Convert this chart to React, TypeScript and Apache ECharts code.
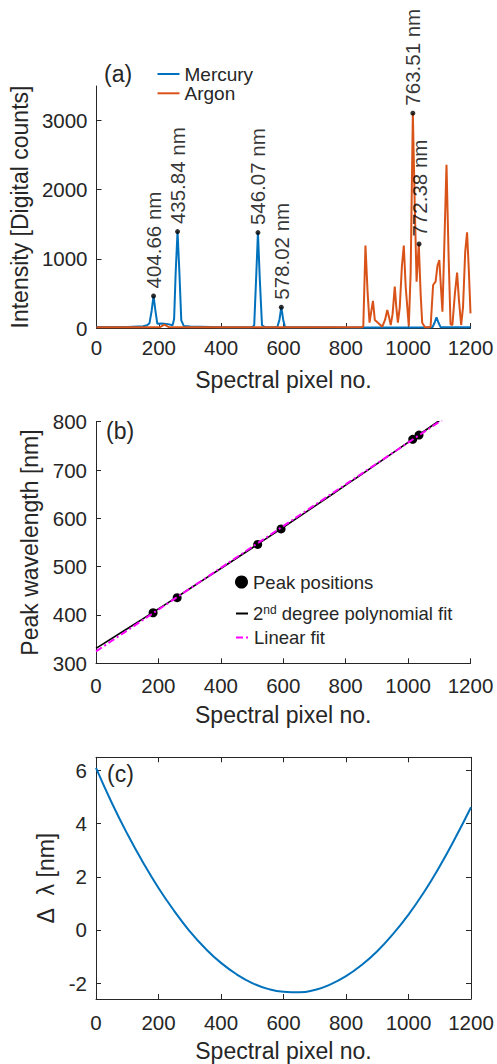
import React, { useEffect, useRef } from "react";
import * as echarts from "echarts";

// ---------- Data ----------
// (a) spectra: [spectral pixel, intensity]
const mercury: [number, number][] = [
  [0, 15], [100, 16], [150, 25], [162, 40], [170, 70], [177, 250], [183, 463], [189, 250],
  [195, 62], [210, 64], [230, 56], [244, 40], [249, 130], [254, 800], [260, 1394], [266, 800],
  [272, 110], [280, 30], [300, 20], [400, 12], [500, 12], [506, 40], [512, 700], [518, 1380],
  [524, 700], [531, 40], [540, 12], [580, 12], [587, 120], [593, 300], [599, 120], [605, 12],
  [700, 10], [800, 8], [900, 8], [1000, 8], [1078, 10], [1085, 80], [1091, 155], [1097, 80],
  [1104, 12], [1200, 12],
];
const argon: [number, number][] = [
  [0, 12], [150, 12], [205, 14], [212, 35], [218, 48], [225, 32], [232, 14], [300, 12],
  [500, 10], [700, 10], [850, 10], [856, 20], [863, 1191], [870, 500], [876, 77], [882, 250],
  [887, 391], [893, 116], [903, 77], [917, 19], [926, 120], [933, 260], [939, 150], [944, 43],
  [950, 200], [957, 598], [962, 300], [967, 77], [973, 300], [980, 900], [986, 1191], [992, 600],
  [1002, 25], [1008, 800], [1015, 3107], [1021, 1800], [1027, 670], [1034, 1215], [1040, 500],
  [1045, 77], [1054, 10], [1066, 10], [1072, 19], [1080, 622], [1088, 670], [1094, 900],
  [1100, 984], [1105, 600], [1110, 236], [1116, 1200], [1123, 2359], [1130, 1000], [1136, 53],
  [1142, 43], [1150, 500], [1157, 800], [1163, 400], [1170, 43], [1176, 300], [1183, 1100],
  [1189, 1385], [1195, 800], [1200, 212],
];
const peakPixels = [183, 260, 518, 593, 1015, 1035];
const peakWavelengths = [404.66, 435.84, 546.07, 578.02, 763.51, 772.38];
const peakIntensities = [463, 1394, 1380, 300, 3107, 1215];

// (b) calibration fits
const fitPixels = [0, 100, 200, 300, 400, 500, 600, 700, 800, 900, 1000, 1100, 1200];
const polyFit = [330.8, 371.5, 412.7, 454.2, 496.2, 538.7, 581.6, 624.9, 668.6, 712.7, 757.3, 802.3, 847.7];
const linearFit = [324.7, 367.9, 411.1, 454.3, 497.5, 540.7, 583.9, 627.1, 670.3, 713.5, 756.7, 799.9, 843.1];

// (c) difference between fits
const residPixels = [0, 50, 100, 150, 200, 250, 300, 350, 400, 450, 500, 550, 600, 650, 700, 750, 800, 850, 900, 950, 1000, 1050, 1100, 1150, 1200];
const residuals = [6.1, 4.8, 3.62, 2.55, 1.58, 0.72, -0.05, -0.7, -1.24, -1.67, -2.0, -2.22, -2.33, -2.35, -2.26, -2.05, -1.74, -1.32, -0.8, -0.16, 0.58, 1.43, 2.4, 3.47, 4.62];

const yTicksA = [0, 1000, 2000, 3000];
const yTicksB = [300, 400, 500, 600, 700, 800];
const yTicksC = [-2, 0, 2, 4, 6];

const POLY = "2nd degree polynomial fit";

// ---------- Styles ----------
const FONT = "'Liberation Sans', Arial, Helvetica, sans-serif";
const AX = "#262626";
const BLUE = "#0072BD";
const ORANGE = "#D95319";
const plain = (v: number) => String(v);

function xAxisCfg(grid: number, margin: number, extra: any = {}) {
  return {
    type: "value",
    gridIndex: grid,
    min: 0,
    max: 1200,
    interval: 200,
    name: "Spectral pixel no.",
    nameLocation: "middle",
    nameGap: 40,
    nameTextStyle: { fontSize: 23, color: AX, fontFamily: FONT },
    axisLine: { show: true, onZero: false, lineStyle: { color: AX, width: 1 } },
    axisTick: { show: true, inside: true, length: 5, lineStyle: { color: AX } },
    axisLabel: { fontSize: 20.5, color: AX, fontFamily: FONT, margin, formatter: plain },
    splitLine: { show: false },
    ...extra,
  };
}

function yAxisCfg(grid: number, min: number, max: number, ticks: number[], name: string, nameGap: number, extra: any = {}) {
  return {
    type: "value",
    gridIndex: grid,
    min,
    max,
    name,
    nameLocation: "middle",
    nameGap,
    nameTextStyle: { fontSize: 23, color: AX, fontFamily: FONT },
    axisLine: { show: true, onZero: false, lineStyle: { color: AX, width: 1 } },
    axisTick: { show: true, inside: true, length: 5, lineStyle: { color: AX }, customValues: ticks },
    axisLabel: { fontSize: 20.5, color: AX, fontFamily: FONT, margin: 9, customValues: ticks, formatter: plain },
    splitLine: { show: false },
    ...extra,
  };
}

const legendText = { fontSize: 18.5, color: AX, fontFamily: FONT };

export default function App() {
  const ref = useRef<HTMLDivElement>(null);

  useEffect(() => {
    if (!ref.current) return;
    const chart = echarts.init(ref.current, null, { renderer: "svg" });

    const peakData = peakPixels.map((p, i) => [p, peakIntensities[i], peakWavelengths[i]]);
    const peakPosData = peakPixels.map((p, i) => [p, peakWavelengths[i]]);

    const option: any = {
      animation: false,
      backgroundColor: "#ffffff",
      textStyle: { fontFamily: FONT },
      grid: [
        { left: 96, top: 86, width: 374.5, height: 242 },
        { left: 96, top: 421.7, width: 374.5, height: 241.6 },
        { left: 96, top: 757.3, width: 375, height: 241.7 },
      ],
      xAxis: [
        xAxisCfg(0, 9),
        xAxisCfg(1, 12),
        xAxisCfg(2, 13),
        xAxisCfg(2, 8, {
          position: "top",
          name: "",
          axisLabel: { show: false },
        }),
      ],
      yAxis: [
        yAxisCfg(0, 0, 3500, yTicksA, "Intensity [Digital counts]", 63),
        yAxisCfg(1, 300, 800, yTicksB, "Peak wavelength [nm]", 52.5),
        yAxisCfg(2, -2.6, 6.5, yTicksC, "Δ\u00a0\u00a0λ [nm]", 36),
        yAxisCfg(2, -2.6, 6.5, yTicksC, "", 0, {
          position: "right",
          axisLabel: { show: false, customValues: yTicksC },
        }),
      ],
      legend: [
        {
          data: ["Mercury", "Argon"],
          orient: "vertical",
          left: 156.5,
          top: 64.5,
          padding: 0,
          itemWidth: 22,
          itemHeight: 12,
          itemGap: 0.3,
          itemStyle: { opacity: 0 },
          textStyle: { fontSize: 19, lineHeight: 19, color: AX, fontFamily: FONT },
        },
        {
          data: [{ name: "Peak positions", icon: "circle" }],
          left: 235,
          top: 572.5,
          padding: 0,
          itemWidth: 13,
          itemHeight: 13,
          textStyle: legendText,
        },
        {
          data: [POLY],
          left: 235,
          top: 604,
          padding: 0,
          itemWidth: 12,
          itemHeight: 13,
          itemStyle: { opacity: 0 },
          formatter: () => "2{sup|nd} degree polynomial fit",
          textStyle: {
            ...legendText,
            rich: { sup: { fontSize: 12, color: AX, fontFamily: FONT, verticalAlign: "top" } },
          },
        },
        {
          data: ["Linear fit"],
          left: 235,
          top: 628,
          padding: 0,
          itemWidth: 13,
          itemHeight: 13,
          itemStyle: { opacity: 0 },
          textStyle: legendText,
        },
      ],
      graphic: [
        { type: "text", left: 104, top: 62, style: { text: "(a)", fontSize: 23, fill: AX, fontFamily: FONT } },
        { type: "text", left: 106, top: 419, style: { text: "(b)", fontSize: 23, fill: AX, fontFamily: FONT } },
        { type: "text", left: 107, top: 762, style: { text: "(c)", fontSize: 23, fill: AX, fontFamily: FONT } },
      ],
      series: [
        {
          name: "Mercury",
          type: "line",
          xAxisIndex: 0,
          yAxisIndex: 0,
          data: mercury,
          symbol: "none",
          lineStyle: { color: BLUE, width: 2 },
          itemStyle: { color: BLUE },
        },
        {
          name: "Argon",
          type: "line",
          xAxisIndex: 0,
          yAxisIndex: 0,
          data: argon,
          symbol: "none",
          lineStyle: { color: ORANGE, width: 2 },
          itemStyle: { color: ORANGE },
        },
        {
          name: "peakLabels",
          type: "scatter",
          xAxisIndex: 0,
          yAxisIndex: 0,
          data: peakData,
          symbolSize: 5,
          itemStyle: { color: "#000" },
          z: 5,
          label: {
            show: true,
            position: "top",
            distance: 5,
            rotate: 90,
            align: "left",
            verticalAlign: "middle",
            fontSize: 20.5,
            color: "#000",
            fontFamily: FONT,
            formatter: (p: any) => `${p.value[2].toFixed(2)} nm`,
          },
        },
        {
          name: "Peak positions",
          type: "scatter",
          xAxisIndex: 1,
          yAxisIndex: 1,
          data: peakPosData,
          symbolSize: 9,
          itemStyle: { color: "#000", opacity: 1 },
        },
        {
          name: POLY,
          type: "line",
          xAxisIndex: 1,
          yAxisIndex: 1,
          data: fitPixels.map((p, i) => [p, polyFit[i]]),
          symbol: "none",
          smooth: true,
          lineStyle: { color: "#000", width: 1.6 },
          itemStyle: { color: "#000" },
        },
        {
          name: "Linear fit",
          type: "line",
          xAxisIndex: 1,
          yAxisIndex: 1,
          data: fitPixels.map((p, i) => [p, linearFit[i]]),
          symbol: "none",
          lineStyle: { color: "#FF00FF", width: 2, type: [7, 3, 2, 3] },
          itemStyle: { color: "#FF00FF" },
        },
        {
          name: "residual",
          type: "line",
          xAxisIndex: 2,
          yAxisIndex: 2,
          data: residPixels.map((p, i) => [p, residuals[i]]),
          symbol: "none",
          smooth: true,
          lineStyle: { color: BLUE, width: 2 },
        },
      ],
    };

    chart.setOption(option);
    return () => chart.dispose();
  }, []);

  return (
    <div
      ref={ref}
      style={{ position: "absolute", left: 0, top: 0, width: 497, height: 1064, background: "#fff" }}
    />
  );
}
